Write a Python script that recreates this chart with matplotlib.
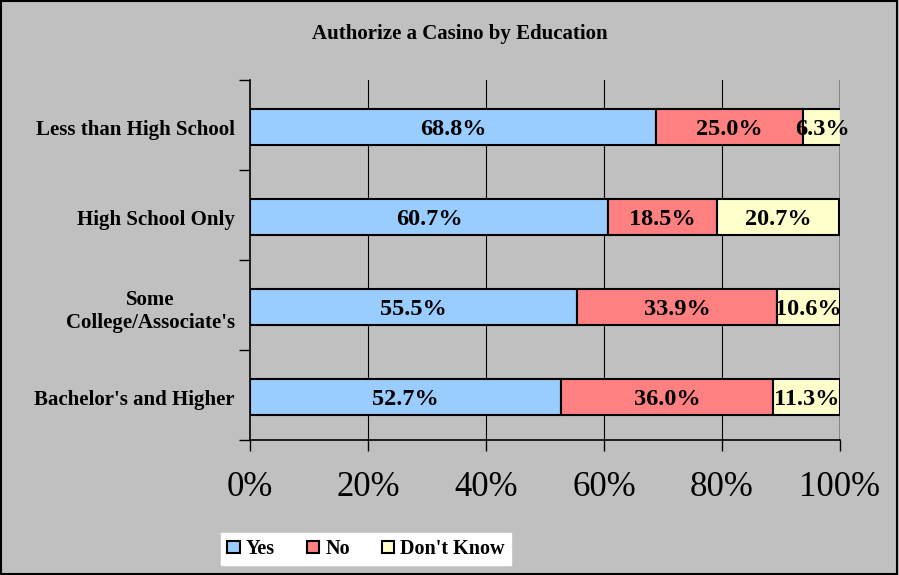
import matplotlib.pyplot as plt
import numpy as np
from matplotlib.patches import Patch

plt.rcParams['font.family'] = ['Liberation Serif', 'DejaVu Serif']

categories = ["Less than High School", "High School Only",
              "Some\nCollege/Associate's", "Bachelor's and Higher"]
yes = [68.8, 60.7, 55.5, 52.7]
no = [25.0, 18.5, 33.9, 36.0]
dont_know = [6.3, 20.7, 10.6, 11.3]
series_names = ["Yes", "No", "Don't Know"]
colors = ["#99CCFF", "#FF8080", "#FFFFCC"]
bg = "#C0C0C0"

fig = plt.figure(figsize=(8.99, 5.75), dpi=100, facecolor=bg)
ax = fig.add_axes([250 / 899, 1 - 440 / 575, 590 / 899, 360 / 575])
ax.set_facecolor(bg)

# рамка вокруг всей картинки
fig.patches.append(plt.Rectangle((0.001, 0.002), 0.997, 0.996, transform=fig.transFigure,
                                 fill=False, edgecolor='black', linewidth=1.5))

y = np.arange(len(categories))
yb = y + 0.025  # столбцы чуть ниже центра категории
left = np.zeros(len(categories))
for vals, name, col in zip([yes, no, dont_know], series_names, colors):
    vals = np.array(vals) / 100
    ax.barh(yb, vals, left=left, height=0.4, color=col, edgecolor='black',
            linewidth=1.5, label=name, zorder=3)
    for yi, l, v in zip(yb, left, vals):
        ax.text(l + v / 2, yi, f"{v * 100:.1f}%", ha='center', va='center_baseline',
                fontsize=17.5, fontweight='bold', zorder=4)
    left += vals

ax.set_xlim(0, 1)
ax.set_ylim(3.5, -0.5)

for x in [0.2, 0.4, 0.6, 0.8]:
    ax.axvline(x, color='black', linewidth=0.8, zorder=1)
ax.axvline(1.0, color='#808080', linewidth=2, zorder=1)

for s in ['top', 'right']:
    ax.spines[s].set_visible(False)
ax.spines['left'].set_linewidth(1.2)
ax.spines['bottom'].set_linewidth(1.2)
ax.spines['left'].set_zorder(5)

ax.set_xticks([0, 0.2, 0.4, 0.6, 0.8, 1.0])
ax.set_xticklabels(["0%", "20%", "40%", "60%", "80%", "100%"], fontsize=25)
ax.tick_params(axis='x', direction='out', length=8, width=1, pad=14)

ax.set_yticks(np.arange(-0.5, 4, 1))
ax.set_yticklabels([])
ax.set_yticks(yb, minor=True)
ax.set_yticklabels(categories, minor=True, fontsize=15, fontweight='bold',
                   ha='right', multialignment='center')
ax.tick_params(axis='y', which='major', direction='out', length=8, width=1)
ax.tick_params(axis='y', which='minor', length=0, pad=11)

fig.text(460 / 899, 1 - 34 / 575, "Authorize a Casino by Education", ha='center',
         va='center', fontsize=15, fontweight='bold')

handles = [Patch(facecolor=c, edgecolor='black', linewidth=1.5) for c in colors]
leg = fig.legend(handles, series_names, loc='center', bbox_to_anchor=(366 / 899, 1 - 549 / 575),
                 ncol=3, frameon=True, fancybox=False, framealpha=1, edgecolor='white',
                 prop={'weight': 'bold', 'size': 14.5}, handlelength=0.6, handleheight=0.6,
                 handletextpad=0.3, columnspacing=1.6, borderpad=0.3)

fig.savefig("out.png", dpi=100, facecolor=bg)
